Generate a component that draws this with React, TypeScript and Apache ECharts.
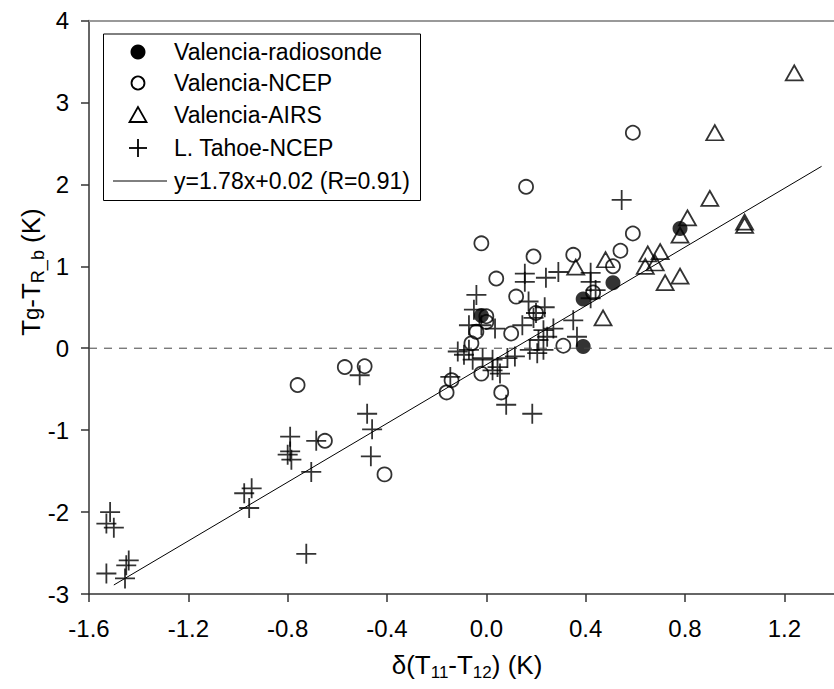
import React, { useEffect, useRef } from "react";
import * as echarts from "echarts";

const F = "'Liberation Sans', Arial, sans-serif";

const xTickMin = -1.6;
const xTickMax = 1.4;
const xTickStep = 0.4;
const yTickMin = -3;
const yTickMax = 4;
const yTickStep = 1;

const radiosondeX = [-0.02, 0.39, 0.39, 0.51, 0.78];
const radiosondeY = [0.40, 0.60, 0.02, 0.80, 1.46];

const ncepX = [0.59, 0.16, -0.02, 0.59, 0.19, 0.35, 0.54, 0.51, 0.04, 0.12, 0.43, 0.20, 0.00, -0.04, 0.10, 0.31, -0.06, -0.02, -0.14, -0.16, 0.06, -0.57, -0.49, -0.76, -0.65, -0.41, 0.00];
const ncepY = [2.63, 1.97, 1.28, 1.40, 1.12, 1.14, 1.19, 1.00, 0.85, 0.63, 0.68, 0.43, 0.32, 0.20, 0.18, 0.03, 0.06, -0.31, -0.39, -0.54, -0.54, -0.23, -0.22, -0.45, -1.13, -1.54, 0.39];

const airsX = [1.24, 0.92, 0.90, 0.81, 0.78, 1.04, 1.04, 0.48, 0.65, 0.70, 0.64, 0.68, 0.72, 0.78, 0.47, 0.36];
const airsY = [3.36, 2.63, 1.83, 1.59, 1.38, 1.54, 1.50, 1.08, 1.15, 1.18, 1.00, 1.04, 0.80, 0.88, 0.37, 0.99];

const tahoeX = [-0.04, 0.155, 0.155, 0.24, 0.29, 0.42, 0.42, 0.44, 0.42, 0.17, 0.235, 0.20, -0.05, -0.07, -0.02, 0.035, 0.145, 0.19, 0.23, 0.27, 0.245, 0.21, 0.35, 0.365, -0.115, -0.09, -0.07, -0.055, -0.015, 0.025, 0.045, 0.055, 0.085, 0.115, 0.175, 0.205, 0.23, -0.145, 0.08, 0.185, 0.025, 0.545,
  -0.51, -0.48, -0.46, -0.465, -0.685, -0.705, -0.725, -0.79, -0.79, -0.785, -0.80, -0.945, -0.975, -0.955, -1.515, -1.53, -1.50, -1.53, -1.44, -1.45, -1.455];
const tahoeY = [0.65, 0.91, 0.81, 0.86, 0.93, 0.92, 0.81, 0.71, 0.61, 0.57, 0.50, 0.43, 0.47, 0.28, 0.28, 0.24, 0.28, 0.37, 0.22, 0.24, 0.14, 0.10, 0.34, 0.14, -0.04, -0.08, -0.02, -0.14, -0.12, -0.14, -0.23, -0.31, -0.12, -0.10, -0.02, -0.06, -0.02, -0.35, -0.69, -0.80, -0.27, 1.81,
  -0.33, -0.80, -0.99, -1.32, -1.13, -1.51, -2.51, -1.08, -1.26, -1.36, -1.30, -1.71, -1.77, -1.95, -2.00, -2.14, -2.19, -2.75, -2.59, -2.65, -2.81];

const fitX = [-1.50, 1.35];
const fitY = [-2.89, 2.22];

const legendNames = ["Valencia-radiosonde", "Valencia-NCEP", "Valencia-AIRS", "L. Tahoe-NCEP", "y=1.78x+0.02 (R=0.91)"];

const zip = (xs: number[], ys: number[]) => xs.map((x, i) => [x, ys[i]]);

const PLUS = "path://M0,10 L20,10 M10,0 L10,20";

export default function App() {
  const ref = useRef<HTMLDivElement>(null);
  useEffect(() => {
    const chart = echarts.init(ref.current!, null, { renderer: "svg" });
    const open = { color: "rgba(0,0,0,0)", borderColor: "#000", borderWidth: 1.8 };
    const lx = 138;
    const rows = [52, 83, 115, 148, 181];
    const option: any = {
      animation: false,
      backgroundColor: "#fff",
      grid: { left: 89, right: -5, top: 20.5, bottom: 95, containLabel: false },
      xAxis: [
        {
          type: "value",
          min: xTickMin,
          max: xTickMax,
          interval: xTickStep,
          position: "bottom",
          axisLine: { onZero: false, lineStyle: { color: "#333", width: 1.5 } },
          axisTick: { length: 8, lineStyle: { color: "#333", width: 1.5 } },
          axisLabel: {
            margin: 22,
            fontSize: 24,
            color: "#000",
            fontFamily: F,
            showMaxLabel: false,
            formatter: (v: number) => v.toFixed(1),
          },
          splitLine: { show: false },
        },
        {
          type: "value",
          min: xTickMin,
          max: xTickMax,
          position: "top",
          axisLine: { onZero: false, lineStyle: { color: "#999", width: 2 } },
          axisTick: { show: false },
          axisLabel: { show: false },
          splitLine: { show: false },
        },
      ],
      yAxis: {
        type: "value",
        min: yTickMin,
        max: yTickMax,
        interval: yTickStep,
        axisLine: { onZero: false, lineStyle: { color: "#333", width: 1.5 } },
        axisTick: { length: 8, lineStyle: { color: "#333", width: 1.5 } },
        axisLabel: { margin: 20, fontSize: 24, color: "#000", fontFamily: F },
        splitLine: { show: false },
      },
      series: [
        {
          type: "line",
          data: [[xTickMin, 0], [xTickMax, 0]],
          symbol: "none",
          silent: true,
          lineStyle: { color: "#444", width: 1, type: [8, 7] },
        },
        {
          name: legendNames[4],
          type: "line",
          data: zip(fitX, fitY),
          symbol: "none",
          silent: true,
          lineStyle: { color: "#000", width: 1 },
        },
        {
          name: legendNames[0],
          type: "scatter",
          data: zip(radiosondeX, radiosondeY),
          symbol: "circle",
          symbolSize: 15,
          itemStyle: { color: "#000" },
          silent: true,
        },
        {
          name: legendNames[1],
          type: "scatter",
          data: zip(ncepX, ncepY),
          symbol: "circle",
          symbolSize: 14,
          itemStyle: open,
          silent: true,
        },
        {
          name: legendNames[2],
          type: "scatter",
          data: zip(airsX, airsY),
          symbol: "triangle",
          symbolSize: [17, 15],
          itemStyle: open,
          silent: true,
        },
        {
          name: legendNames[3],
          type: "scatter",
          data: zip(tahoeX, tahoeY),
          symbol: PLUS,
          symbolSize: 20,
          itemStyle: open,
          silent: true,
        },
      ],
      graphic: [
        {
          type: "rect",
          shape: { x: 103.5, y: 34, width: 317, height: 166.5 },
          style: { fill: "#fff", stroke: "#000", lineWidth: 1 },
          z: 100,
        },
        { type: "circle", shape: { cx: lx, cy: rows[0], r: 7.5 }, style: { fill: "#000" }, z: 101 },
        { type: "circle", shape: { cx: lx, cy: rows[1], r: 6.5 }, style: { fill: "none", stroke: "#000", lineWidth: 1.8 }, z: 101 },
        {
          type: "polygon",
          shape: { points: [[lx, rows[2] - 8], [lx - 8.5, rows[2] + 7], [lx + 8.5, rows[2] + 7]] },
          style: { fill: "none", stroke: "#000", lineWidth: 1.8 },
          z: 101,
        },
        { type: "line", shape: { x1: lx - 9, y1: rows[3], x2: lx + 9, y2: rows[3] }, style: { stroke: "#000", lineWidth: 1.8 }, z: 101 },
        { type: "line", shape: { x1: lx, y1: rows[3] - 9, x2: lx, y2: rows[3] + 9 }, style: { stroke: "#000", lineWidth: 1.8 }, z: 101 },
        { type: "line", shape: { x1: 113, y1: rows[4], x2: 167, y2: rows[4] }, style: { stroke: "#000", lineWidth: 1 }, z: 101 },
        ...legendNames.map((n, i) => ({
          type: "text",
          x: 174,
          y: rows[i],
          z: 101,
          style: { text: n, font: `23px ${F}`, fill: "#000", align: "left", verticalAlign: "middle" },
        })),
        {
          type: "text",
          x: 467,
          y: 665,
          z: 101,
          style: {
            text: "{a|δ(T}{s|11}{a|-T}{s|12}{a|) (K)}",
            align: "center",
            verticalAlign: "middle",
            fill: "#000",
            font: `26px ${F}`,
            rich: {
              a: { font: `26px ${F}`, fontSize: 26, fontFamily: F, fill: "#000", color: "#000", lineHeight: 32, verticalAlign: "middle" },
              s: { font: `17px ${F}`, fontSize: 17, fontFamily: F, fill: "#000", color: "#000", lineHeight: 32, verticalAlign: "bottom" },
            },
          },
        },
        {
          type: "text",
          x: 31,
          y: 272,
          rotation: Math.PI / 2,
          z: 101,
          style: {
            text: "{a|T}{g|g}{a|-T}{s|R_b}{a| (K)}",
            align: "center",
            verticalAlign: "middle",
            fill: "#000",
            font: `26px ${F}`,
            rich: {
              a: { font: `26px ${F}`, fontSize: 26, fontFamily: F, fill: "#000", color: "#000", lineHeight: 32, verticalAlign: "middle" },
              g: { font: `22px ${F}`, fontSize: 22, fontFamily: F, fill: "#000", color: "#000", lineHeight: 28, verticalAlign: "middle" },
              s: { font: `18px ${F}`, fontSize: 18, fontFamily: F, fill: "#000", color: "#000", lineHeight: 32, verticalAlign: "bottom" },
            },
          },
        },
      ],
    };
    chart.setOption(option);
    return () => chart.dispose();
  }, []);
  return (
    <div
      ref={ref}
      style={{ position: "fixed", left: 0, top: 0, width: 834, height: 689, background: "#fff" }}
    />
  );
}
